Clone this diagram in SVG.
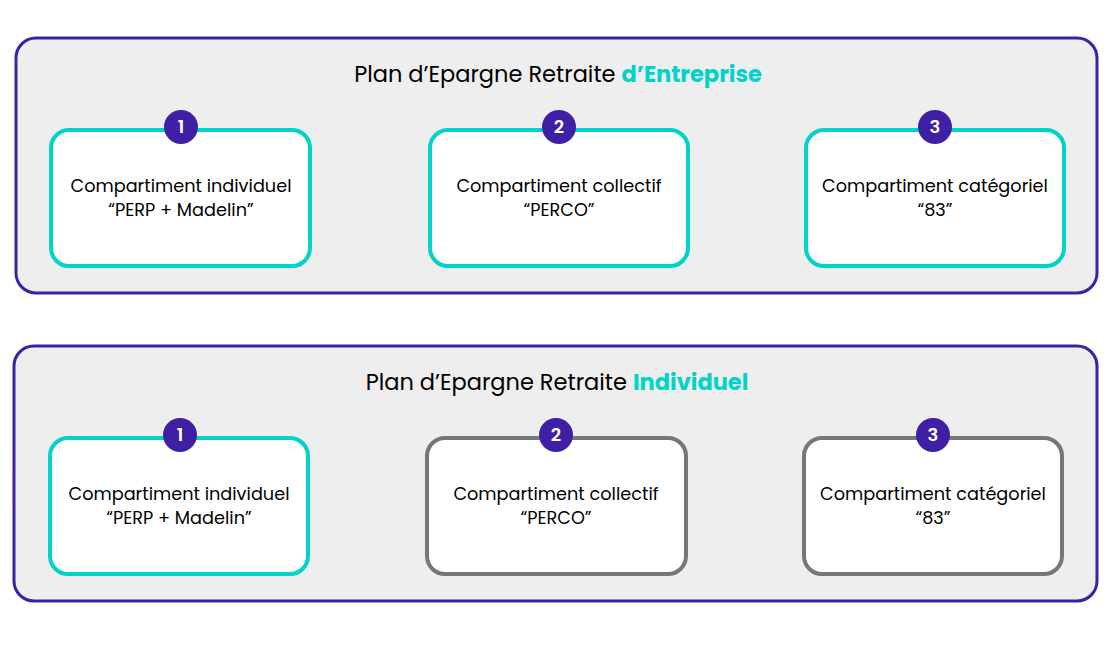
<svg xmlns="http://www.w3.org/2000/svg" width="1110" height="648" viewBox="0 0 1110 648">
<style>
.panel{fill:#eeeeee;stroke:#3f1fa5;stroke-width:3}
.box{fill:#fff;stroke-width:4}
.on{stroke:#00d3c9}
.off{stroke:#777}
.badge{fill:#3f1fa5}
.bn{font-family:Poppins,"Open Sans",sans-serif;font-size:18px;font-weight:600;fill:#fff;text-anchor:middle}
.t{font-family:Poppins,"Open Sans",sans-serif;font-size:17.7px;fill:#000;text-anchor:middle}
.title{font-family:Poppins,"Open Sans",sans-serif;font-size:22.5px;fill:#000;text-anchor:middle}
.hl{fill:#00d3c9;font-weight:bold}
</style>
<rect width="1110" height="648" fill="#fff"/>
<g id="pere">
<rect class="panel" x="16" y="38" width="1081" height="255" rx="20"/>
<text class="title" x="558" y="82">Plan d’Epargne Retraite <tspan class="hl">d’Entreprise</tspan></text>
</g>
<g id="e1"><rect class="box on" x="51" y="130" width="259" height="136" rx="18"/>
<text class="t" x="181" y="192">Compartiment individuel</text><text class="t" x="181" y="216">“PERP + Madelin”</text>
<circle class="badge" cx="181" cy="127" r="17"/><text class="bn" x="181" y="133">1</text></g>
<g id="e2"><rect class="box on" x="430" y="130" width="258" height="136" rx="18"/>
<text class="t" x="559" y="192">Compartiment collectif</text><text class="t" x="559" y="216">“PERCO”</text>
<circle class="badge" cx="559" cy="127" r="17"/><text class="bn" x="559" y="133">2</text></g>
<g id="e3"><rect class="box on" x="806" y="130" width="258" height="136" rx="18"/>
<text class="t" x="935" y="192">Compartiment catégoriel</text><text class="t" x="935" y="216">“83”</text>
<circle class="badge" cx="935" cy="127" r="17"/><text class="bn" x="935" y="133">3</text></g>
<g id="peri">
<rect class="panel" x="14" y="346" width="1083" height="255" rx="20"/>
<text class="title" x="557" y="390">Plan d’Epargne Retraite <tspan class="hl">Individuel</tspan></text>
</g>
<g id="i1"><rect class="box on" x="50" y="438" width="258" height="136" rx="18"/>
<text class="t" x="179" y="500">Compartiment individuel</text><text class="t" x="179" y="524">“PERP + Madelin”</text>
<circle class="badge" cx="180" cy="435" r="17"/><text class="bn" x="180" y="441">1</text></g>
<g id="i2"><rect class="box off" x="427" y="438" width="259" height="136" rx="18"/>
<text class="t" x="556" y="500">Compartiment collectif</text><text class="t" x="556" y="524">“PERCO”</text>
<circle class="badge" cx="556" cy="435" r="17"/><text class="bn" x="556" y="441">2</text></g>
<g id="i3"><rect class="box off" x="804" y="438" width="258" height="136" rx="18"/>
<text class="t" x="933" y="500">Compartiment catégoriel</text><text class="t" x="933" y="524">“83”</text>
<circle class="badge" cx="933" cy="435" r="17"/><text class="bn" x="933" y="441">3</text></g>
<g id="connectors"></g>
</svg>
